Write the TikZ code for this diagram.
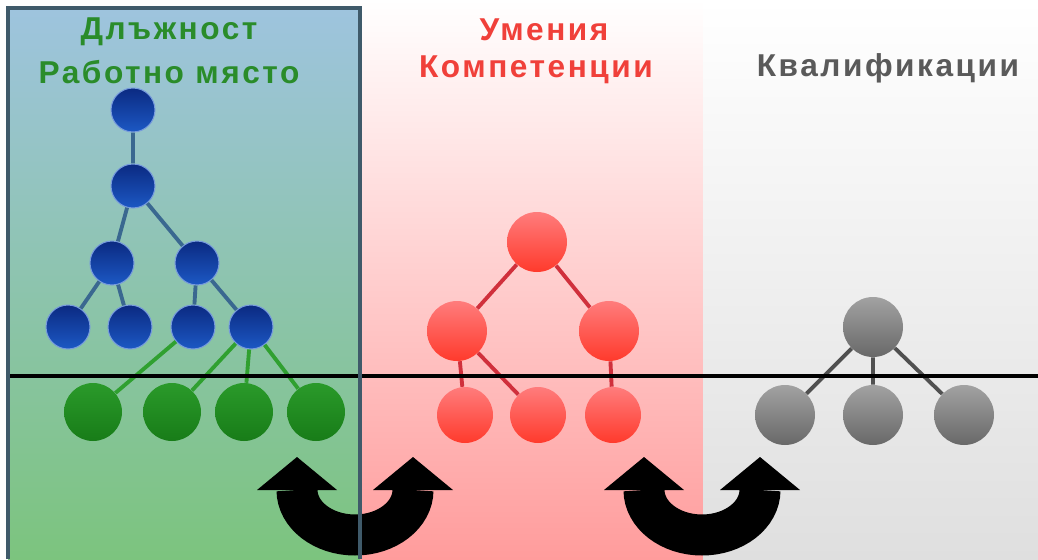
\documentclass[tikz,border=0pt]{standalone}
\usepackage{fontspec}
\newfontfamily\headfont[LetterSpace=8]{Liberation Sans}

\definecolor{panelblue}{HTML}{9EC4DE}
\definecolor{panelgreen}{HTML}{7CC47E}
\definecolor{panelrim}{HTML}{3F5A6A}
\definecolor{pinkmid}{HTML}{FFDADA}
\definecolor{pinkbottom}{HTML}{FF9C9C}
\definecolor{greybottom}{HTML}{DFDFDF}
\definecolor{jobtop}{HTML}{0B2A82}
\definecolor{jobbottom}{HTML}{1C58C4}
\definecolor{jobline}{HTML}{3A6890}
\definecolor{worktop}{HTML}{2A9A2A}
\definecolor{workbottom}{HTML}{187C18}
\definecolor{workline}{HTML}{30A030}
\definecolor{skilltop}{HTML}{FF7C7C}
\definecolor{skillbottom}{HTML}{FF3A2C}
\definecolor{skillline}{HTML}{D0303C}
\definecolor{qualtop}{HTML}{A2A2A2}
\definecolor{qualbottom}{HTML}{686868}
\definecolor{qualline}{HTML}{505050}
\definecolor{headgreen}{HTML}{2A8C2A}
\definecolor{headred}{HTML}{F0403A}
\definecolor{headgrey}{HTML}{5A5A5A}

\begin{document}
\begin{tikzpicture}[x=0.02cm, y=-0.02cm,
  ball/.style={circle, inner sep=0pt},
  job/.style={ball, minimum size=0.88cm, top color=jobtop, bottom color=jobbottom, draw=jobbottom!60!white, line width=0.6pt},
  work/.style={ball, minimum size=1.16cm, top color=worktop, bottom color=workbottom},
  skill/.style={ball, minimum size=1.2cm, top color=skilltop, bottom color=skillbottom},
  qual/.style={ball, minimum size=1.2cm, top color=qualtop, bottom color=qualbottom},
  head/.style={font=\headfont\bfseries\fontsize{18}{21}\selectfont}]
\useasboundingbox (0,0) rectangle (1038,559);

% panels
\shade[top color=panelblue, bottom color=panelgreen] (8,8) rectangle (360,559);
\shade[top color=white, middle color=pinkmid, bottom color=pinkbottom] (360,0) rectangle (703,559);
\shade[top color=white, bottom color=greybottom] (703,0) rectangle (1038,559);

% titles
\node[head, text=headgreen] (jobtitle) at (169,32) {Длъжност};
\node[head, text=headgreen] (worktitle) at (169,72) {Работно място};
\node[head, text=headred] (skilltitle) at (544,30) {Умения};
\node[head, text=headred] (comptitle) at (536,70) {Компетенции};
\node[head, text=headgrey] (qualtitle) at (888,68) {Квалификации};

% job tree
\node[job] (j1) at (133,110) {};
\node[job] (j2) at (133,186) {};
\node[job] (j3) at (112,263) {};
\node[job] (j4) at (197,263) {};
\node[job] (j5) at (68,327) {};
\node[job] (j6) at (130,327) {};
\node[job] (j7) at (193,327) {};
\node[job] (j8) at (251,327) {};

\node[work] (w1) at (93,412) {};
\node[work] (w2) at (172,412) {};
\node[work] (w3) at (244,412) {};
\node[work] (w4) at (316,412) {};

\draw[jobline, line width=2.2pt] (j1) -- (j2) (j2) -- (j3) (j2) -- (j4)
  (j3) -- (j5) (j3) -- (j6) (j4) -- (j7) (j4) -- (j8);
\draw[workline, line width=2.2pt] (j7) -- (w1) (j8) -- (w2) (j8) -- (w3) (j8) -- (w4);

% skill tree
\node[skill] (s1) at (537,242) {};
\node[skill] (s2) at (457,331) {};
\node[skill] (s3) at (609,331) {};
\node[skill, minimum size=1.12cm] (s4) at (465,415) {};
\node[skill, minimum size=1.12cm] (s5) at (538,415) {};
\node[skill, minimum size=1.12cm] (s6) at (613,415) {};

\draw[skillline, line width=2.2pt] (s1) -- (s2) (s1) -- (s3)
  (s2) -- (s4) (s2) -- (s5) (s3) -- (s6);

% qualification tree
\node[qual] (q1) at (873,327) {};
\node[qual] (q2) at (785,415) {};
\node[qual] (q3) at (873,415) {};
\node[qual] (q4) at (964,415) {};

\draw[qualline, line width=2.2pt] (q1) -- (q2) (q1) -- (q3) (q1) -- (q4);

% level line
\draw[line width=1.8pt] (8,376) -- (1038,376);

% exchange arrows
\foreach \c in {355,702} {
  \draw[line width=0.82cm] ({\c-58},490) arc[start angle=180, end angle=360, x radius=1.16cm, y radius=0.9cm];
  \fill ({\c-98},490) -- ({\c-58},457) -- ({\c-18},490) -- cycle;
  \fill ({\c+18},490) -- ({\c+58},457) -- ({\c+98},490) -- cycle;
}

\draw[panelrim, line width=2.2pt] (8,559) -- (8,8) -- (360,8) -- (360,559);
\end{tikzpicture}
\end{document}
